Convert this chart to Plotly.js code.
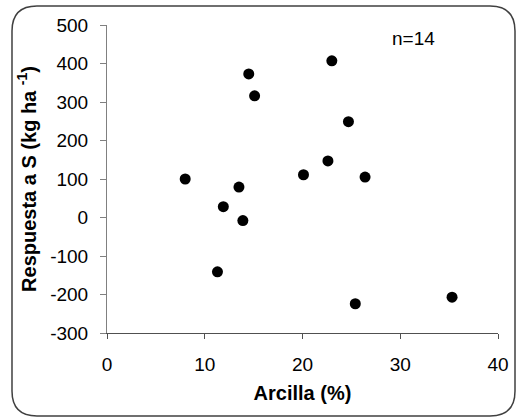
<!DOCTYPE html>
<html>
<head>
<meta charset="utf-8">
<script src="https://cdn.plot.ly/plotly-3.0.1.min.js"></script>
<style>html,body{margin:0;padding:0;background:#fff;}#chart{width:518px;height:418px;}</style>
</head>
<body>
<div id="chart"></div>
<script>
// Data
const arcilla = [8.0, 11.3, 11.9, 13.5, 13.9, 14.5, 15.1, 20.1, 22.6, 23.0, 24.7, 25.4, 26.4, 35.3];
const respuesta = [100, -141, 28, 79, -8, 373, 316, 111, 147, 407, 249, -224, 105, -207];
const xTicks = [0, 10, 20, 30, 40];
const yTicks = [-300, -200, -100, 0, 100, 200, 300, 400, 500];
const yTickText = ['-300', '-200', '-100', '0', '100', '200', '300', '400', '500'];
const nLabel = 'n=14';

const FONT = 'Liberation Sans, Arial, sans-serif';
const W = 518, H = 418;
const m = {l: 107, r: 20, t: 25, b: 85};
const pw = W - m.l - m.r, ph = H - m.t - m.b;
function fx(px){ return (px - m.l) / pw; }
function fy(py){ return (H - m.b - py) / ph; }
// rounded outer frame
const L = 12, R = 515, T = 6, B = 416, rad = 25;
const framePath = [
  'M', fx(L + rad), fy(T),
  'L', fx(R - rad), fy(T),
  'Q', fx(R), fy(T), fx(R), fy(T + rad),
  'L', fx(R), fy(B - rad),
  'Q', fx(R), fy(B), fx(R - rad), fy(B),
  'L', fx(L + rad), fy(B),
  'Q', fx(L), fy(B), fx(L), fy(B - rad),
  'L', fx(L), fy(T + rad),
  'Q', fx(L), fy(T), fx(L + rad), fy(T),
  'Z'
].map(v => typeof v === 'number' ? v.toFixed(5) : v).join(' ');

const trace = {
  x: arcilla, y: respuesta, type: 'scatter', mode: 'markers',
  marker: {color: '#000', size: 11}, cliponaxis: false, hoverinfo: 'skip'
};

const layout = {
  width: W, height: H,
  margin: m,
  paper_bgcolor: '#fff', plot_bgcolor: '#fff',
  showlegend: false,
  font: {family: FONT, size: 19, color: '#000'},
  xaxis: {
    range: [0, 40], tickmode: 'array', tickvals: xTicks,
    showgrid: false, zeroline: false, showline: true, linecolor: '#505050', linewidth: 1,
    ticks: 'outside', ticklen: 5, tickcolor: '#505050', tickwidth: 1,
    ticklabelstandoff: 9,
    tickfont: {family: FONT, size: 19, color: '#000'},
    title: {text: 'Arcilla (%)', font: {family: FONT, size: 20, color: '#000', weight: 'bold'}, standoff: 12},
    automargin: false, fixedrange: true
  },
  yaxis: {
    range: [-300, 500], tickmode: 'array', tickvals: yTicks, ticktext: yTickText,
    showgrid: false, zeroline: false, showline: true, linecolor: '#808080', linewidth: 1,
    ticks: 'outside', ticklen: 6, tickcolor: '#808080', tickwidth: 1,
    ticklabelstandoff: 8,
    tickfont: {family: FONT, size: 19, color: '#000'},
    title: {text: 'Respuesta a S (kg ha <sup>-1</sup>)', font: {family: FONT, size: 20, color: '#000', weight: 'bold'}, standoff: 8},
    automargin: false, fixedrange: true
  },
  shapes: [{
    type: 'path', xref: 'paper', yref: 'paper', path: framePath,
    line: {color: '#404040', width: 1.5}, fillcolor: 'rgba(0,0,0,0)', layer: 'below'
  }],
  annotations: [{
    xref: 'x', yref: 'y', x: 31.4, y: 465, text: nLabel, showarrow: false,
    font: {family: FONT, size: 19, color: '#000'}, xanchor: 'center', yanchor: 'middle'
  }]
};

Plotly.newPlot('chart', [trace], layout, {staticPlot: true, displayModeBar: false});
</script>
</body>
</html>
